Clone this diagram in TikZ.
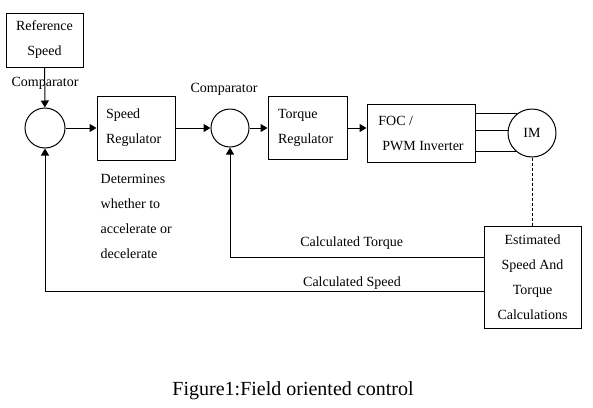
\documentclass[tikz,border=0pt]{standalone}
\usepackage{fontspec}
\setmainfont{Liberation Serif}
\usetikzlibrary{positioning,arrows.meta,calc}

\begin{document}
\begin{tikzpicture}[x=1pt,y=-1pt,
  box/.style={draw,line width=1pt,font=\fontsize{14}{25}\selectfont},
  cmp/.style={draw,circle,line width=1pt,minimum size=40pt,inner sep=0pt,
    font=\fontsize{14}{25}\selectfont},
  txt/.style={font=\fontsize{14}{25}\selectfont,inner sep=1pt},
  ar/.style={line width=1pt,-{Triangle[length=7pt,width=8pt]}},
  ln/.style={line width=1pt}]
\useasboundingbox (0,0) rectangle (593,407);
\node[box,minimum width=77pt,minimum height=54pt,align=center] (ref) at (44.5,40) {Reference\\Speed};
\node[cmp] (c1) at (45,128) {};
\node[box,minimum width=78pt,minimum height=64pt,text width=60pt,align=left] (sreg) at (136,128) {Speed\\Regulator};
\node[cmp,minimum size=38pt] (c2) at (230,128) {};
\node[box,minimum width=79pt,minimum height=63pt,text width=59pt,align=left] (treg) at (307.5,128) {Torque\\Regulator};
\node[box,minimum width=108pt,minimum height=58pt,align=left] (foc) at (421,133) {FOC /\\\hspace*{4pt}PWM Inverter};
\node[cmp,minimum size=48pt] (im) at (532,133) {IM};
\node[box,minimum width=97pt,minimum height=102pt,align=center] (est) at (532.5,277) {Estimated\\Speed And\\Torque\\Calculations};
% labels
\node[txt,above=17pt of c1] (cmp1) {Comparator};
\node[txt,above=12pt of c2,xshift=-6pt] (cmp2) {Comparator};
\node[txt,align=left,below right=13pt and 0pt of sreg.south west,xshift=3pt] (note) {Determines\\whether to\\accelerate or\\decelerate};
% forward path
\draw[ar] (ref) -- (c1);
\draw[ar] (c1) -- (sreg);
\draw[ar] (sreg) -- (c2);
\draw[ar] (c2) -- (treg);
\draw[ar] (treg) -- (treg -| foc.west);
\foreach \a in {128,175,229}
  \draw[ln] (im.\a) -- (im.\a -| foc.east);
\draw[ln,dash pattern=on 3pt off 2pt] (im.south) -- (im.south |- est.north);
% feedback
\coordinate (tq) at ($(est.north west)!0.31!(est.south west)$);
\coordinate (sp) at ($(est.north west)!0.64!(est.south west)$);
\draw[ar] (tq) -| node[txt,pos=0.26,above=6pt]{Calculated Torque} (c2);
\draw[ar] (sp) -| node[txt,pos=0.15,above=0pt]{Calculated Speed} (c1);
\node[font=\fontsize{20}{24}\selectfont] (cap) at (293,391) {Figure1:Field oriented control};
\end{tikzpicture}
\end{document}
